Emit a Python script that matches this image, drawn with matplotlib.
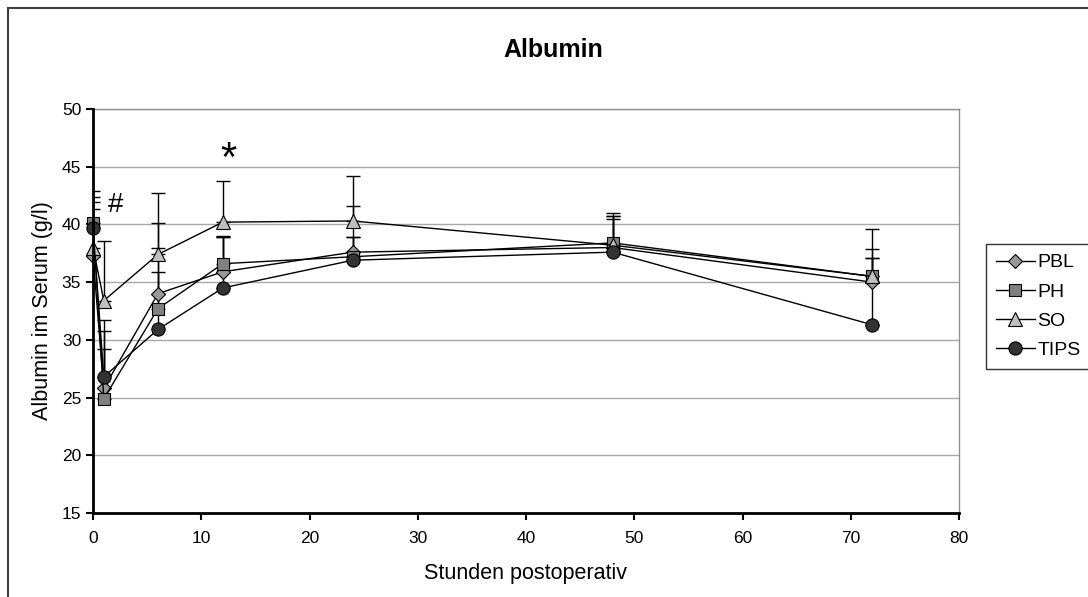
import matplotlib
matplotlib.use('Agg')
from matplotlib import pyplot as plt
from matplotlib.patches import Rectangle
import numpy as np

plt.rcParams['font.family'] = ['Liberation Sans', 'DejaVu Sans']

hours = [0, 1, 6, 12, 24, 48, 72]
groups = ['PBL', 'PH', 'SO', 'TIPS']

pbl = [37.3, 25.8, 34.0, 35.9, 37.6, 38.0, 35.0]
ph = [40.1, 24.9, 32.7, 36.6, 37.2, 38.4, 35.5]
so = [38.0, 33.4, 37.4, 40.2, 40.3, 38.2, 35.5]
tips = [39.7, 26.8, 30.9, 34.5, 36.9, 37.6, 31.3]

# oberes Ende der Fehlerbalken
pbl_top = [41.3, 30.8, 40.1, 38.9, 41.6, 40.7, 37.1]
ph_top = [42.9, 29.2, 38.0, 39.0, 38.9, 41.0, 37.9]
so_top = [41.9, 38.6, 42.7, 43.8, 44.2, 40.7, 39.6]
tips_top = [42.4, 31.7, 35.9, 38.9, 38.9, 40.5, 37.1]

werte = [pbl, ph, so, tips]
oben = [pbl_top, ph_top, so_top, tips_top]
marker = ['D', 's', '^', 'o']
farben = ['#999999', '#808080', '#c0c0c0', '#333333']
groessen = [7.5, 9, 10, 9.5]

fig = plt.figure(figsize=(10.88, 5.97), dpi=100)
ax = fig.add_axes([93/1088, 1-513/597, (959-93)/1088, (513-109)/597])

for name, y, top, m, c, s in zip(groups, werte, oben, marker, farben, groessen):
    y = np.array(y)
    err = np.array(top) - y
    ax.errorbar(hours, y, yerr=[np.zeros_like(err), err], fmt='none',
                ecolor='black', elinewidth=1, capsize=5, capthick=1, zorder=2)
    ax.plot(hours, y, '-', color='black', lw=1, marker=m, markersize=s,
            markerfacecolor=c, markeredgecolor='black', markeredgewidth=0.8,
            label=name, zorder=3, clip_on=False)

ax.set_xlim(0, 80)
ax.set_ylim(15, 50)
ax.set_xticks(range(0, 81, 10))
ax.set_yticks(range(15, 51, 5))
ax.yaxis.grid(True, color='#a8a8a8', lw=1)
ax.set_axisbelow(True)
for sp in ['top', 'right']:
    ax.spines[sp].set_color('#909090')
    ax.spines[sp].set_linewidth(1)
for sp in ['left', 'bottom']:
    ax.spines[sp].set_linewidth(2)
    ax.spines[sp].set_zorder(4)
ax.tick_params(direction='out', length=5, width=1.5, labelsize=12.5)
ax.tick_params(axis='x', pad=8)

ax.text(1.4, 41.7, '#', fontsize=20, va='center', ha='left')
ax.text(12.5, 45.6, '*', fontsize=30, va='center', ha='center')

ax.set_xlabel('Stunden postoperativ', fontsize=15.5, labelpad=12)
ax.set_ylabel('Albumin im Serum (g/l)', fontsize=15.5, labelpad=6)
fig.text(553/1088, 1-50/597, 'Albumin', fontsize=18, fontweight='bold',
         ha='center', va='center')

leg = fig.legend(loc='upper left', bbox_to_anchor=(986/1088, 1-244/597),
                 fontsize=14, frameon=True, fancybox=False, borderpad=0.5,
                 handlelength=2.0, handletextpad=0.15, labelspacing=0.6,
                 borderaxespad=0)
leg.get_frame().set_edgecolor('black')
leg.get_frame().set_linewidth(1)

fig.patches.append(Rectangle((8/1088, -0.1), 1.2, 1.1 - 8/597,
                             transform=fig.transFigure, fill=False,
                             edgecolor='#404040', lw=1.5))

plt.savefig('out.png', dpi=100)
